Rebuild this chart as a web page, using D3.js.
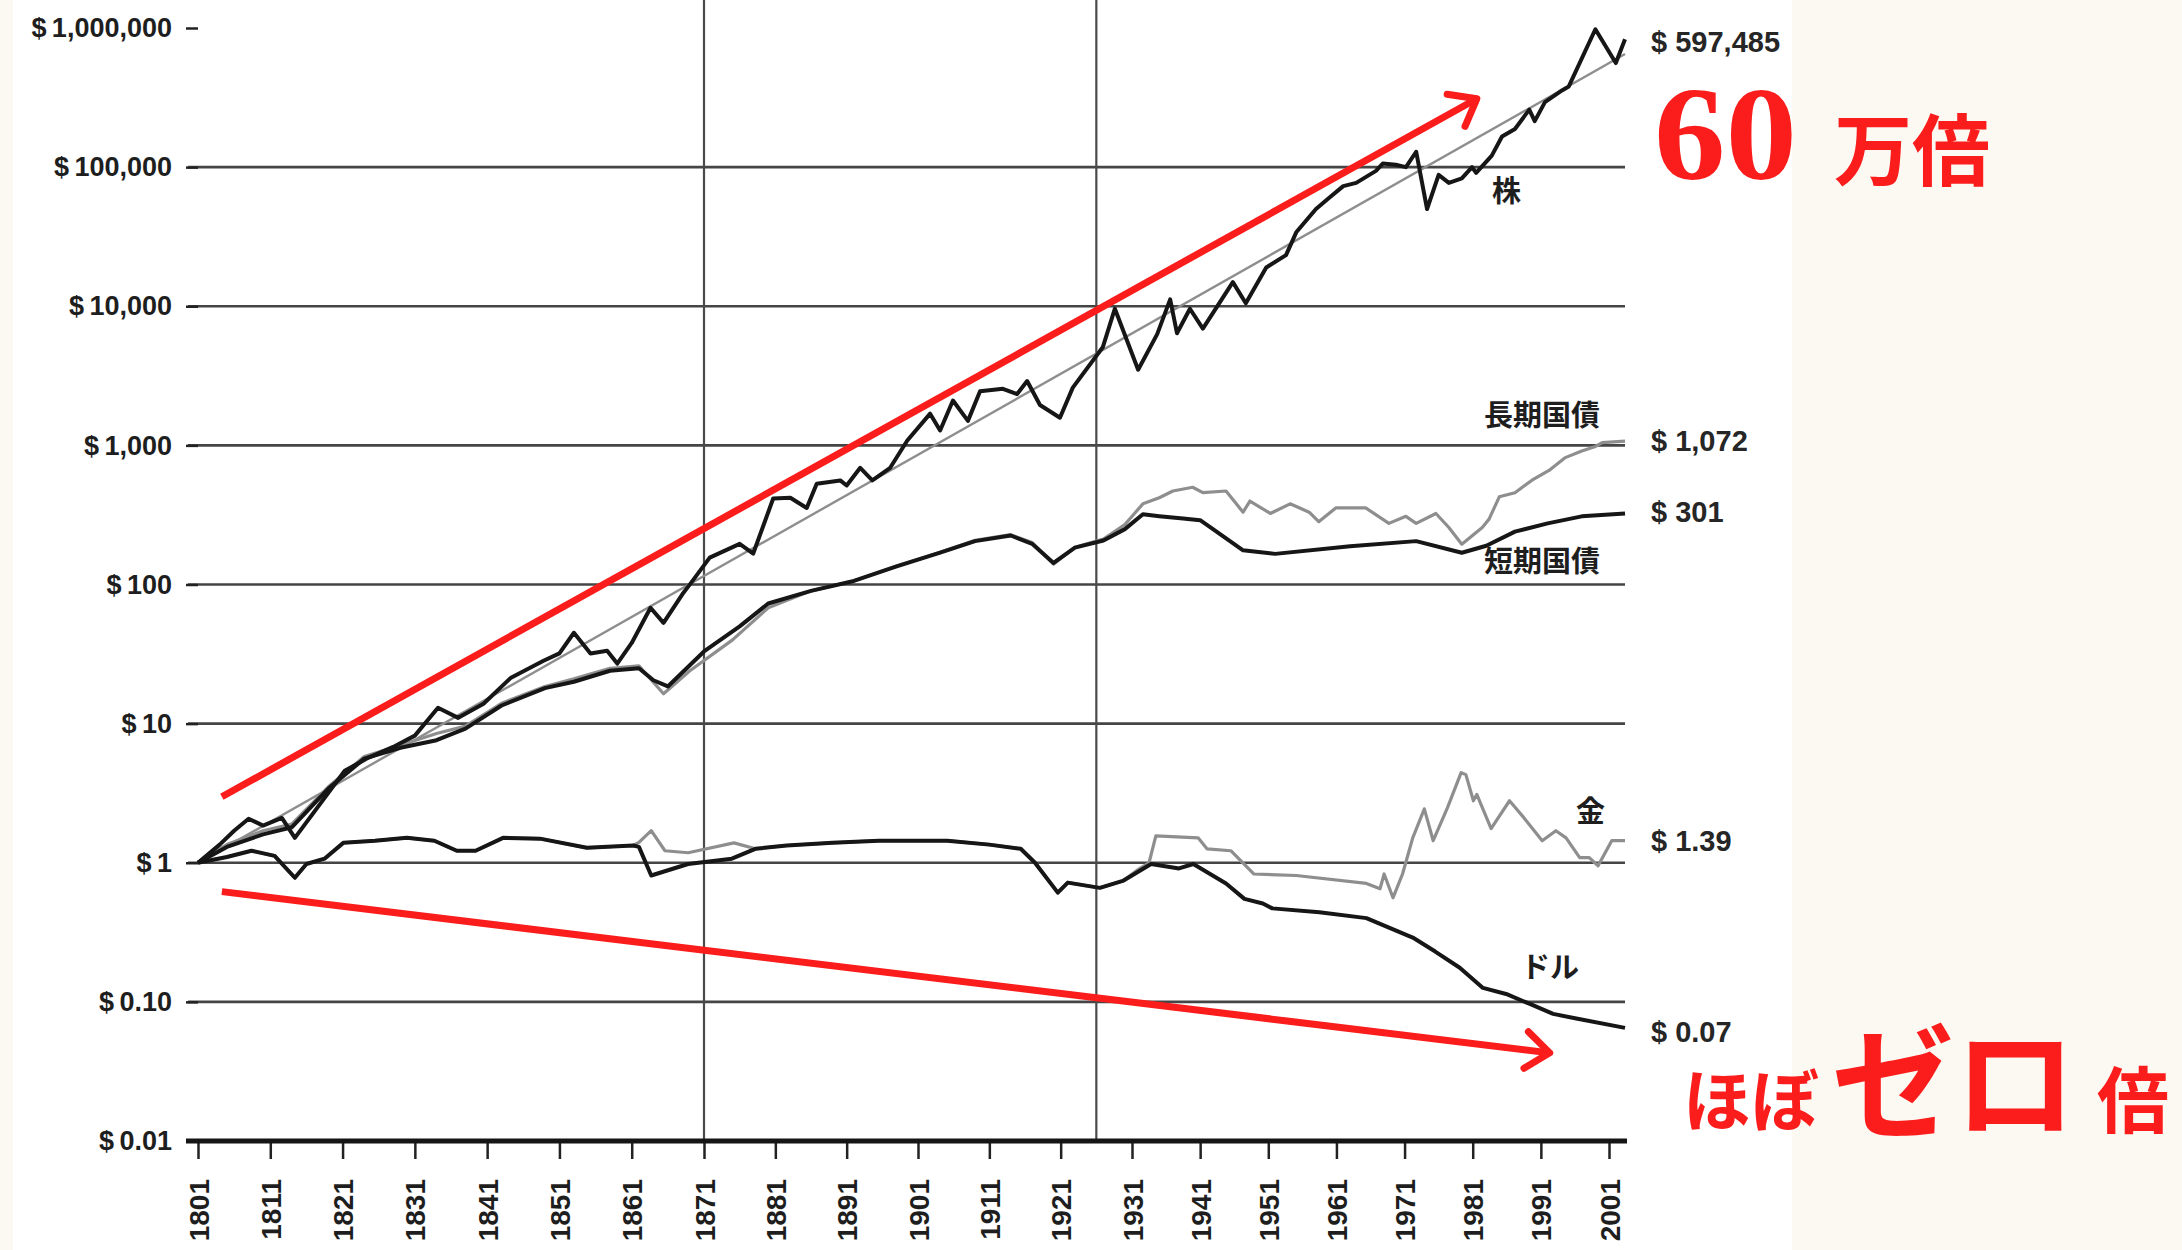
<!DOCTYPE html>
<html lang="ja">
<head>
<meta charset="utf-8">
<script src="https://cdn.jsdelivr.net/npm/d3@7"></script>
<style>
  body { margin: 0; background: #fcf9f3; }
  svg { display: block; }
  .axis text { font-family: "Liberation Sans", Arial, sans-serif; font-weight: bold; fill: #1e1e1e; }
  .axis line { stroke: #222; stroke-width: 2.5; }
  .jp { font-family: "Noto Sans CJK JP", sans-serif; font-weight: bold; }
</style>
</head>
<body>
<script>
var yTicks = [0.01, 0.1, 1, 10, 100, 1000, 10000, 100000, 1000000];
var yTickLabels = ["$\u20090.01", "$\u20090.10", "$\u20091", "$\u200910", "$\u2009100", "$\u20091,000", "$\u200910,000", "$\u2009100,000", "$\u20091,000,000"];
var xTicks = d3.range(1801, 2002, 10);
var refYears = [1871, 1926];
var lastYear = 2003.35;

var stocks = [[1801,1],[1804,1.35],[1806,1.7],[1808,2.07],[1810,1.85],[1812.6,2.1],[1814.4,1.51],
  [1821.3,4.58],[1824.6,5.7],[1828,6.8],[1831,8.2],[1834.2,13],[1837,11],[1840.5,13.9],[1844.3,21.4],
  [1848.8,28.3],[1851,32],[1853,45],[1855.3,31.9],[1857.6,33.4],[1859,27],[1861,38],[1863.6,68],
  [1865.4,53],[1868,85],[1869.1,101],[1871.8,156],[1876,196],[1877.9,167],[1880.7,415],[1883.1,420],
  [1885.4,355],[1886.8,530],[1890.1,560],[1891,515],[1892.9,690],[1894.6,560],[1897.1,690],
  [1899.5,1085],[1902.7,1690],[1904.1,1280],[1905.9,2100],[1908,1500],[1909.7,2450],[1912.9,2550],
  [1914.9,2340],[1916.3,2900],[1918.1,1950],[1920.9,1580],[1922.7,2600],[1926.9,5070],[1928.6,9600],
  [1931.9,3500],[1934.7,6300],[1936.6,11200],[1937.6,6400],[1939.5,9600],[1941.4,6900],[1945.8,14900],
  [1947.7,10500],[1950.7,19000],[1953.6,23300],[1955.1,34000],[1956.5,41000],[1958,50000],
  [1959.9,60000],[1962,73000],[1963.9,77000],[1966.8,94000],[1967.8,106000],[1969.7,104000],
  [1971.2,100000],[1972.7,129000],[1974.3,50000],[1976,88000],[1977.5,77000],[1979.4,83000],
  [1980.9,100000],[1981.5,91000],[1983.8,121000],[1985.3,166000],[1987.2,188000],[1989.3,259000],
  [1990.1,214000],[1991.6,293000],[1994.1,356000],[1995.1,380000],[1999,980000],[2002,560000],
  [2003.35,830000]];

var stockTrend = [[1801,1],[2003.35,650000]];

var bonds = [[1801,1],[1805,1.35],[1810,1.7],[1814,1.9],[1819,3.5],[1824,5.8],[1829,7],[1834,8.5],
  [1838,9.6],[1843,14],[1849,18.5],[1853,21],[1858,25],[1862,26],[1865.4,16.4],[1869,23.9],[1875,40],
  [1880,68],[1886,90],[1892,106],[1898,136],[1904,170],[1909,208],[1914,228],[1917,200],[1920,140],
  [1923,185],[1927,212],[1930,270],[1932.6,380],[1935,420],[1937,470],[1939.9,500],[1941.4,457],
  [1944.8,470],[1947.3,331],[1948.3,398],[1951.3,324],[1954.2,380],[1957,331],[1958.4,283],
  [1960.9,355],[1965.3,355],[1968.7,275],[1971.2,309],[1972.7,275],[1975.6,324],[1977.5,257],
  [1979.4,195],[1982.4,257],[1983.4,295],[1984.9,427],[1987.2,457],[1989.7,562],[1992.2,661],
  [1994.5,813],[1997,912],[1998.9,977],[2000,1047],[2003.35,1072]];

var bills = [[1801,1],[1805,1.3],[1810,1.6],[1814,1.8],[1819,3.4],[1824,5.6],[1829,6.7],[1834,7.6],
  [1838,9.2],[1843,13.5],[1849,18],[1853,20],[1858,24],[1862,25],[1864,20.5],[1866,18.5],[1871,33],
  [1876,50],[1880,73],[1886,90],[1892,106],[1898,135],[1904,169],[1909,205],[1914,225],[1917,196],
  [1920,143],[1923,184],[1927,207],[1930,250],[1932.6,320],[1935,310],[1938.5,298],[1941,290],
  [1943.3,242],[1947.3,176],[1952,166],[1963,188],[1972.7,205],[1979.4,169],[1983,190],
  [1987.2,240],[1992,275],[1997,309],[2003.35,324]];

var gold = [[1801,1],[1805,1.1],[1808.4,1.22],[1811.6,1.12],[1814.4,0.78],[1816,0.98],[1818.5,1.07],
  [1821.1,1.39],[1825.5,1.44],[1829.9,1.51],[1833.7,1.44],[1836.8,1.22],[1839.4,1.22],[1843.2,1.51],
  [1848.3,1.49],[1854.8,1.28],[1861.2,1.33],[1862,1.4],[1863.7,1.7],[1865.6,1.22],[1868.8,1.18],
  [1875.2,1.39],[1878.2,1.26],[1882.6,1.33],[1889,1.39],[1895.5,1.44],[1899.2,1.44],[1905.1,1.44],
  [1911,1.35],[1915.4,1.26],[1917.4,1.0],[1920.6,0.61],[1922,0.72],[1926.5,0.66],[1929.7,0.74],
  [1932,0.9],[1933.5,1.0],[1934.5,1.56],[1940.7,1.51],[1942,1.26],[1945.5,1.22],[1948.9,0.83],
  [1955.1,0.81],[1965.4,0.71],[1967.4,0.65],[1968,0.83],[1969.3,0.56],[1970.7,0.83],[1972.2,1.51],
  [1973.9,2.44],[1975.2,1.44],[1977.3,2.49],[1979.3,4.44],[1980,4.3],[1981.1,2.79],[1981.6,3.1],
  [1983.7,1.76],[1986.4,2.79],[1988.5,2.11],[1991.2,1.44],[1993.2,1.7],[1994.7,1.51],[1996.7,1.09],
  [1998.1,1.09],[1999.4,0.95],[2001.4,1.44],[2003.35,1.44]];

var dollar = [[1801,1],[1805,1.1],[1808.4,1.22],[1811.6,1.12],[1814.4,0.78],[1816,0.98],[1818.5,1.07],
  [1821.1,1.39],[1825.5,1.44],[1829.9,1.51],[1833.7,1.44],[1836.8,1.22],[1839.4,1.22],[1843.2,1.51],
  [1848.3,1.49],[1854.8,1.28],[1861.2,1.33],[1862,1.3],[1863.7,0.81],[1868.8,0.98],[1874.9,1.07],
  [1878.2,1.26],[1882.6,1.33],[1889,1.39],[1895.5,1.44],[1899.2,1.44],[1905.1,1.44],[1911,1.35],
  [1915.4,1.26],[1917.4,1.0],[1920.6,0.61],[1922,0.72],[1926.5,0.66],[1929.7,0.74],[1933.8,0.98],
  [1937.9,0.91],[1940,0.98],[1944.8,0.71],[1947.5,0.55],[1950.2,0.51],[1951.6,0.47],[1958.5,0.44],
  [1965.4,0.40],[1968.8,0.34],[1972.2,0.29],[1975.5,0.23],[1979.1,0.176],[1982.5,0.126],
  [1985.9,0.114],[1989.3,0.097],[1992.8,0.082],[1996.2,0.076],[2003.35,0.065]];

var endLabels = [["$ 597,485", 790000], ["$ 1,072", 1072], ["$ 301", 330], ["$ 1.39", 1.42], ["$ 0.07", 0.061]];
var seriesLabels = [["株", 1492, 66700], ["長期国債", 1484, 1634], ["短期国債", 1484, 145], ["金", 1576, 2.33], ["ドル", 1521, 0.176]];

// red annotation arrows (start, tip) in data units
var arrowUp = [[1804.3, 2.98], [1981.6, 310000]];
var arrowDown = [[1804.3, 0.62], [1992.3, 0.043]];

var W = 2182, H = 1250;
var x = d3.scaleLinear().domain([1801, 1871, 1931, 2001]).range([198, 704, 1132, 1609]);
var y = d3.scaleLog().domain([0.01, 1000000]).range([1141, 28]);
var left = x(1801), right = x(lastYear), top = y(1000000), bottom = y(0.01);
var red = "#fb1c1c";

var svg = d3.select("body").append("svg").attr("width", W).attr("height", H);
svg.append("rect").attr("width", W).attr("height", H).attr("fill", "#fcf9f3");
svg.append("rect").attr("x", 13).attr("width", 1779).attr("height", H).attr("fill", "#ffffff");

// horizontal grid
svg.append("g").selectAll("line")
    .data(yTicks.slice(1, -1))
    .enter().append("line")
    .attr("x1", left - 10).attr("x2", right)
    .attr("y1", function(d) { return y(d); })
    .attr("y2", function(d) { return y(d); })
    .attr("stroke", "#454545").attr("stroke-width", 2.6);

// vertical reference lines
svg.append("g").selectAll("line")
    .data(refYears)
    .enter().append("line")
    .attr("x1", function(d) { return x(d); }).attr("x2", function(d) { return x(d); })
    .attr("y1", top).attr("y2", bottom)
    .attr("stroke", "#4a4a4a").attr("stroke-width", 2.2);

// axes
var yAxis = d3.axisLeft(y).tickValues(yTicks)
    .tickFormat(function(d, i) { return yTickLabels[i]; })
    .tickSize(12).tickPadding(14);
svg.append("g").attr("class", "axis").attr("transform", "translate(" + left + ",0)")
    .call(yAxis)
    .call(function(g) { g.select(".domain").remove(); })
    .selectAll("text").attr("font-size", 27);

var xAxis = d3.axisBottom(x).tickValues(xTicks).tickFormat(d3.format("d")).tickSize(18);
svg.append("g").attr("class", "axis").attr("transform", "translate(0," + bottom + ")")
    .call(xAxis)
    .call(function(g) { g.select(".domain").remove(); })
    .selectAll("text")
    .attr("font-size", 28)
    .attr("transform", "rotate(-90)")
    .attr("x", -38).attr("y", 0).attr("dy", "0.36em")
    .style("text-anchor", "end");

// frame
svg.append("rect")
    .attr("x", left).attr("y", top)
    .attr("width", right - left).attr("height", bottom - top)
    .attr("fill", "none").attr("stroke", "#151515").attr("stroke-width", 3.5);
svg.append("line")
    .attr("x1", left - 12).attr("x2", right + 2).attr("y1", bottom).attr("y2", bottom)
    .attr("stroke", "#151515").attr("stroke-width", 5);

// series
var line = d3.line()
    .x(function(d) { return x(d[0]); })
    .y(function(d) { return y(d[1]); });

var series = [
  { data: stockTrend, color: "#8e8e8e", width: 2.4 },
  { data: bonds, color: "#8e8e8e", width: 3.2 },
  { data: gold, color: "#8e8e8e", width: 3.2 },
  { data: bills, color: "#161616", width: 4 },
  { data: dollar, color: "#161616", width: 4 },
  { data: stocks, color: "#161616", width: 4 }
];
svg.append("g").selectAll("path")
    .data(series)
    .enter().append("path")
    .attr("d", function(d) { return line(d.data); })
    .attr("fill", "none")
    .attr("stroke", function(d) { return d.color; })
    .attr("stroke-width", function(d) { return d.width; })
    .attr("stroke-linejoin", "round");

// series names inside the plot
svg.append("g").selectAll("text")
    .data(seriesLabels)
    .enter().append("text")
    .attr("class", "jp")
    .attr("x", function(d) { return d[1]; })
    .attr("y", function(d) { return y(d[2]); })
    .attr("dy", "0.36em")
    .attr("font-size", 29)
    .attr("fill", "#1e1e1e")
    .text(function(d) { return d[0]; });

// end values to the right
svg.append("g").selectAll("text")
    .data(endLabels)
    .enter().append("text")
    .attr("x", right + 26)
    .attr("y", function(d) { return y(d[1]); })
    .attr("dy", "0.34em")
    .attr("font-family", "Liberation Sans, Arial, sans-serif")
    .attr("font-weight", "bold")
    .attr("font-size", 29)
    .attr("fill", "#262626")
    .text(function(d) { return d[0]; });

// red arrows
function arrow(pts) {
  var x0 = x(pts[0][0]), y0 = y(pts[0][1]), x1 = x(pts[1][0]), y1 = y(pts[1][1]);
  var a = Math.atan2(y1 - y0, x1 - x0), len = 30, spread = 0.66;
  var g = svg.append("g").attr("stroke", red).attr("stroke-width", 7)
      .attr("fill", "none").attr("stroke-linecap", "butt").attr("stroke-linejoin", "round");
  g.append("line").attr("x1", x0).attr("y1", y0).attr("x2", x1).attr("y2", y1);
  g.append("path").attr("stroke-linecap", "round")
    .attr("d", "M" + (x1 - len * Math.cos(a - spread)) + "," + (y1 - len * Math.sin(a - spread)) +
      "L" + x1 + "," + y1 +
      "L" + (x1 - len * Math.cos(a + spread)) + "," + (y1 - len * Math.sin(a + spread)));
}
arrow(arrowUp);
arrow(arrowDown);

// big red captions
svg.append("text").attr("x", 1654).attr("y", 179)
    .attr("font-family", "Liberation Serif, serif").attr("font-weight", "bold")
    .attr("font-size", 134).attr("textLength", 143).attr("lengthAdjust", "spacingAndGlyphs")
    .attr("fill", red).text("60");
svg.append("text").attr("class", "jp").attr("x", 1834).attr("y", 180)
    .attr("font-size", 78).attr("fill", red).text("万倍");
svg.append("text").attr("class", "jp").attr("x", 1683).attr("y", 1126)
    .attr("font-size", 68).attr("fill", red).text("ほぼ");
svg.append("text").attr("class", "jp").attr("x", 1832).attr("y", 1128)
    .attr("font-size", 122).attr("fill", red).text("ゼロ");
svg.append("text").attr("class", "jp").attr("x", 2097).attr("y", 1127)
    .attr("font-size", 72).attr("fill", red).text("倍");
</script>
</body>
</html>
